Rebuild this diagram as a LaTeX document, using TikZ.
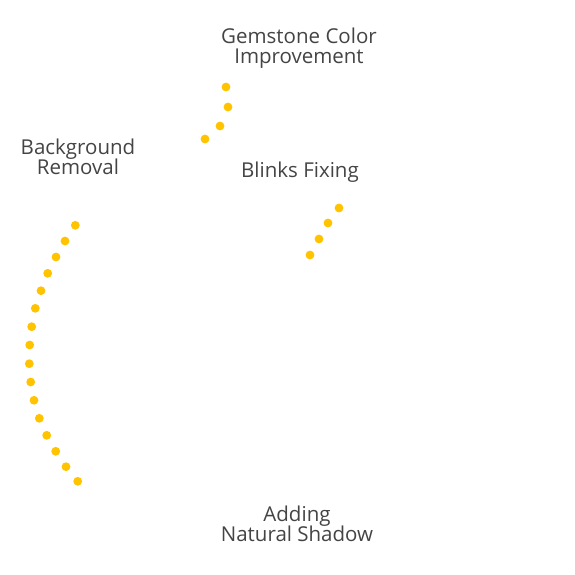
\documentclass[tikz,border=0pt]{standalone}
\usepackage{fontspec}
\setmainfont{Open Sans}
\definecolor{labelgray}{HTML}{444444}
\definecolor{dotyellow}{HTML}{FFC300}
\newcommand\lblfont{\fontsize{20.5}{20}\selectfont\lineskiplimit=-100pt\relax\lineskip=0pt\relax}
\begin{document}
\begin{tikzpicture}[x=1pt,y=-1pt,
  lbl/.style={text=labelgray,font=\lblfont,align=center,inner sep=0pt},
  dot/.style={fill=dotyellow,draw=none}]
\useasboundingbox (0,0) rectangle (575,575);
\node[lbl] (gem) at (299,48.5) {Gemstone Color\\Improvement};
\node[lbl] (bg) at (78,156.5) {Background\\Removal};
\node[lbl] (blink) at (300,172) {Blinks Fixing};
\node[lbl] (shadow) at (297,523.5) {Adding\\Natural Shadow};
\foreach \p in {(226,87),(228,107),(220,126),(205,139),
  (339,208),(328,223),(319,239),(310,255),
  (75.3,225.3),(65,241),(56,257),(47.7,273.3),(41,290.7),(35.3,308.3),(31.7,326.7),(29.7,345),(29.3,363.7),(30.7,382),(34,400.3),(39.3,418.3),(46.7,435.3),(55.7,451.3),(66,466.7),(77.7,481.3)}
  \fill[dot] \p circle (4.4);
\end{tikzpicture}
\end{document}
